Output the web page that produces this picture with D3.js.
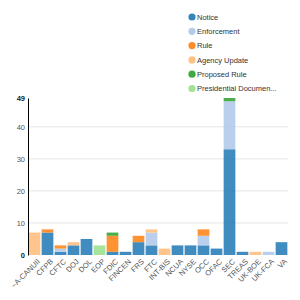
<!doctype html>
<html lang="en">
<head>
    <meta charset="UTF-8">
    <title>Documents by agency</title>
    <style>
        body { margin: 0; background: #fff; }
        svg { font-family: "Liberation Sans", Arial, sans-serif; }
        .tick text { fill: #555; font-size: 7.5px; }
        .y .domain { stroke: #000; }
        .grid line { stroke: #e5e5e5; }
    </style>
</head>
<body>
    <svg width="300" height="300"></svg>
    <script src="https://cdn.jsdelivr.net/npm/d3@7"></script>
    <script>
        const agencies = ["~A-CANUII", "CFPB", "CFTC", "DOJ", "DOL", "EOP", "FDIC", "FINCEN", "FRS", "FTC",
            "INT-BIS", "NCUA", "NYSE", "OCC", "OFAC", "SEC", "TREAS", "UK-BOE", "UK-FCA", "VA"];
        const types = ["Notice", "Enforcement", "Rule", "Agency Update", "Proposed Rule", "Presidential Documen..."];
        const notice        = [0, 7, 1, 3, 5, 0, 1, 1, 4, 3, 0, 3, 3, 3, 2, 33, 1, 0, 0, 4];
        const enforcement   = [0, 0, 1, 0, 0, 0, 0, 0, 0, 4, 0, 0, 0, 3, 0, 15, 0, 0, 1, 0];
        const rule          = [0, 1, 1, 0, 0, 0, 5, 0, 2, 0, 0, 0, 0, 2, 0, 0, 0, 0, 0, 0];
        const agencyUpdate  = [7, 0, 0, 1, 0, 0, 0, 0, 0, 1, 2, 0, 0, 0, 0, 0, 0, 1, 0, 0];
        const proposedRule  = [0, 0, 0, 0, 0, 0, 1, 0, 0, 0, 0, 0, 0, 0, 0, 1, 0, 0, 0, 0];
        const presidential  = [0, 0, 0, 0, 0, 3, 0, 0, 0, 0, 0, 0, 0, 0, 0, 0, 0, 0, 0, 0];
        const colors = ["#1f77b4", "#aec7e8", "#ff7f0e", "#ffbb78", "#2ca02c", "#98df8a"];

        const seriesValues = [notice, enforcement, rule, agencyUpdate, proposedRule, presidential];
        const rows = agencies.map((a, i) => {
            const r = {agency: a};
            types.forEach((t, j) => r[t] = seriesValues[j][i]);
            return r;
        });

        const svg = d3.select("svg"),
            margin = {top: 98, right: 12, bottom: 45, left: 28},
            width = +svg.attr("width") - margin.left - margin.right,
            height = +svg.attr("height") - margin.top - margin.bottom,
            g = svg.append("g").attr("transform", "translate(" + margin.left + "," + margin.top + ")");

        const stacked = d3.stack().keys(types)(rows);
        const maxY = d3.max(stacked[stacked.length - 1], d => d[1]);

        const x = d3.scaleBand().domain(agencies).range([0, width]).paddingInner(0.1).paddingOuter(0.05);
        const y = d3.scaleLinear().domain([0, maxY]).range([height, 0]);
        const color = d3.scaleOrdinal().domain(types).range(colors);

        // gridlines
        g.append("g").attr("class", "grid")
            .selectAll("line").data([10, 20, 30, 40]).enter().append("line")
            .attr("x1", 0).attr("x2", width)
            .attr("y1", d => y(d)).attr("y2", d => y(d));

        g.append("g").selectAll("g").data(stacked).enter().append("g")
            .attr("fill", d => color(d.key))
            .attr("fill-opacity", 0.85)
            .selectAll("rect").data(d => d).enter().append("rect")
            .attr("x", d => x(d.data.agency))
            .attr("width", x.bandwidth())
            .attr("y", d => y(d[1]))
            .attr("height", d => y(d[0]) - y(d[1]));

        // y axis
        const yAxis = g.append("g").attr("class", "y")
            .call(d3.axisLeft(y).tickValues([0, 10, 20, 30, 40, maxY]).tickSize(0).tickPadding(3).tickFormat(d3.format("d")));
        yAxis.selectAll(".tick text")
            .style("font-weight", d => (d === 0 || d === maxY) ? "bold" : null)
            .style("fill", d => (d === 0 || d === maxY) ? "#222" : null);

        // x axis
        const xAxis = g.append("g")
            .attr("transform", "translate(0," + height + ")")
            .call(d3.axisBottom(x).tickSize(0).tickPadding(4));
        xAxis.select(".domain").remove();
        xAxis.selectAll(".tick text")
            .attr("text-anchor", "end")
            .attr("dx", "-0.1em")
            .attr("dy", "0.7em")
            .attr("transform", "rotate(-45)");

        // legend
        const legend = svg.append("g").attr("transform", "translate(192,17)")
            .selectAll("g").data(types).enter().append("g")
            .attr("transform", (d, i) => "translate(0," + i * 14.3 + ")");
        legend.append("circle").attr("r", 3.6).attr("fill", d => color(d)).attr("fill-opacity", 0.9);
        legend.append("text").attr("x", 5).attr("dy", "0.35em")
            .attr("font-size", "7.5px").attr("fill", "#333")
            .text(d => d);
    </script>
</body>
</html>
